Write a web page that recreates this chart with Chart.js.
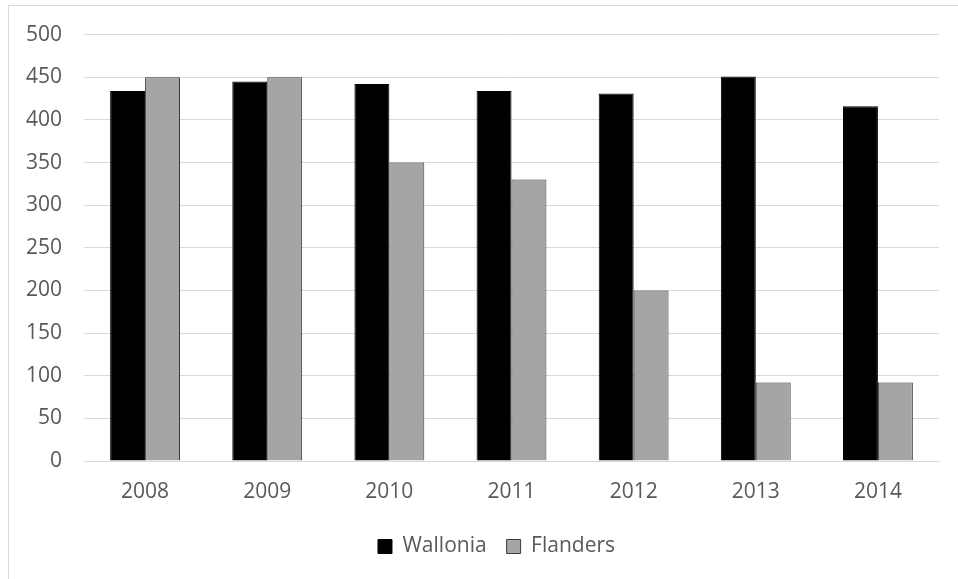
<!DOCTYPE html>
<html>
<head>
<meta charset="utf-8">
<script src="https://cdn.jsdelivr.net/npm/chart.js@4/dist/chart.umd.min.js"></script>
<style>
  html, body { margin: 0; padding: 0; background: #ffffff; }
  body { width: 958px; height: 579px; position: relative; overflow: hidden; }
  #frame { position: absolute; left: 8px; top: 5px; width: 980px; height: 620px; border: 1px solid #d9d9d9; box-sizing: border-box; }
  #wrap { position: absolute; left: 0; top: 0; width: 958px; height: 579px; }
</style>
</head>
<body>
<div id="frame"></div>
<div id="wrap"><canvas id="chart" width="958" height="579"></canvas></div>
<script>
// Yearly values for the two regions
const years = ['2008', '2009', '2010', '2011', '2012', '2013', '2014'];
const wallonia = [434, 445, 442, 434, 431, 451, 416];
const flanders = [450, 450, 350, 330, 200, 92, 92];
const yTicks = [0, 50, 100, 150, 200, 250, 300, 350, 400, 450, 500];

const textColor = '#595959';
const gridColor = '#d9d9d9';
const fontFamily = '"Open Sans", "Liberation Sans", sans-serif';

// Nudge the legend so it sits centred under the whole frame
const legendShift = {
  id: 'legendShift',
  afterLayout(chart) {
    if (chart.legend) {
      chart.legend.left += 23;
      chart.legend.right += 23;
    }
  }
};

new Chart(document.getElementById('chart'), {
  type: 'bar',
  data: {
    labels: years,
    datasets: [
      {
        label: 'Wallonia',
        data: wallonia,
        backgroundColor: '#000000',
        borderColor: '#000000',
        borderWidth: 1,
        categoryPercentage: 0.572,
        barPercentage: 1.0
      },
      {
        label: 'Flanders',
        data: flanders,
        backgroundColor: '#a5a5a5',
        borderColor: '#3a3a3a',
        borderWidth: 1,
        categoryPercentage: 0.572,
        barPercentage: 1.0
      }
    ]
  },
  plugins: [legendShift],
  options: {
    responsive: false,
    animation: false,
    devicePixelRatio: 1,
    layout: { padding: { top: 34, right: 19, left: 8, bottom: 12 } },
    plugins: {
      tooltip: { enabled: false },
      legend: {
        position: 'bottom',
        labels: {
          color: textColor,
          font: { family: fontFamily, size: 21 },
          boxWidth: 14,
          boxHeight: 14,
          padding: 20
        }
      }
    },
    scales: {
      x: {
        grid: { display: false, drawTicks: false },
        border: { display: true, color: gridColor, width: 1 },
        ticks: {
          color: textColor,
          font: { family: fontFamily, size: 21 },
          padding: 18,
          maxRotation: 0
        },
        afterFit: (scale) => { scale.height = 55; }
      },
      y: {
        min: 0,
        max: 500,
        afterBuildTicks: (scale) => { scale.ticks = yTicks.map(v => ({ value: v })); },
        grid: { color: gridColor, lineWidth: 1, drawTicks: false },
        border: { display: false },
        ticks: {
          color: textColor,
          font: { family: fontFamily, size: 21 },
          padding: 22
        },
        afterFit: (scale) => { scale.width = 76; }
      }
    }
  }
});
</script>
</body>
</html>
